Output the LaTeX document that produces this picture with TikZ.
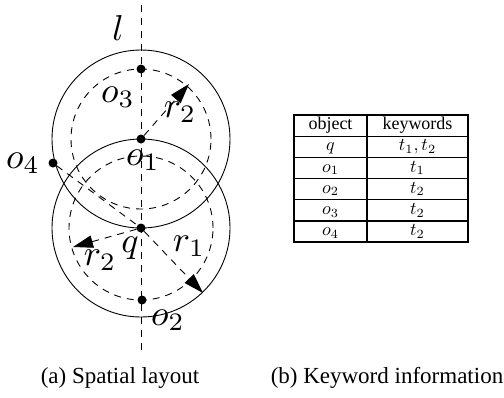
\documentclass[tikz,border=0pt]{standalone}
\usepackage{fontspec}
\setmainfont{Liberation Serif}
\usetikzlibrary{arrows.meta}
\begin{document}
\begin{tikzpicture}[x=1pt,y=-1pt,
  lab/.style={font=\normalsize, scale=3.6, inner sep=0pt},
  dot/.style={circle,fill=black,inner sep=0pt,minimum size=9pt},
  dsh/.style={dash pattern=on 7pt off 6pt, line width=0.9pt},
  sol/.style={line width=0.9pt},
  arr/.style={dsh,-{Triangle[length=20pt,width=12.5pt]}},
  tab/.style={line width=1.4pt},
  tt/.style={font=\normalsize, scale=1.8, inner sep=0pt, text height=6.8pt, text depth=2.2pt},
  captxt/.style={font=\fontsize{23}{26}\selectfont, inner sep=0pt}]
\useasboundingbox (0,0) rectangle (504,397);
% points
\coordinate (ltop) at (141,5);
\coordinate (lbot) at (141,350);
\node[dot] (o1) at (141,139) {};
\node[dot] (q) at (141,228) {};
\node[dot] (o3) at (141,69) {};
\node[dot] (o2) at (142,300) {};
\node[dot] (o4) at (53,163) {};
\coordinate (t1) at (189,84);
\coordinate (t2) at (73,247);
\coordinate (t3) at (203,293);
% vertical line
\draw[dsh] (ltop) -- (lbot);
% circles
\draw[sol] (o1.center) circle[radius=89pt];
\draw[sol] (q.center) circle[radius=89pt];
\draw[dsh] (o1.center) circle[radius=70pt];
\draw[dsh] (q.center) circle[radius=72pt];
% connectors
\draw[dsh] (o4) -- (q);
\draw[arr] (o1) -- (t1);
\draw[arr] (q) -- (t2);
\draw[arr] (q) -- (t3);
% labels
\node[lab] (ll) at (118,28) {$l$};
\node[lab] (lo3) at (118,97) {$o_3$};
\node[lab] (lr2a) at (180,112) {$r_2$};
\node[lab] (lo1) at (143,160) {$o_1$};
\node[lab] (lo4) at (23,163) {$o_4$};
\node[lab] (lq) at (130,248) {$q$};
\node[lab] (lr2b) at (100,260) {$r_2$};
\node[lab] (lr1) at (189,246) {$r_1$};
\node[lab] (lo2) at (168,320) {$o_2$};
% table
\draw[tab] (294,115) rectangle (468,242);
\draw[tab] (367,115) -- (367,242);
\foreach \y in {136.2,157.3,178.5,199.7,220.8} \draw[tab] (294,\y) -- (468,\y);
\node[tt] (h1) at (330.5,125.6) {object};
\node[tt] (h2) at (417.5,125.6) {keywords};
\node[tt] (a1) at (330.5,146.75) {$q$};
\node[tt] (b1) at (417.5,146.75) {$t_1, t_2$};
\node[tt] (a2) at (330.5,167.9) {$o_1$};
\node[tt] (b2) at (417.5,167.9) {$t_1$};
\node[tt] (a3) at (330.5,189.1) {$o_2$};
\node[tt] (b3) at (417.5,189.1) {$t_2$};
\node[tt] (a4) at (330.5,210.25) {$o_3$};
\node[tt] (b4) at (417.5,210.25) {$t_2$};
\node[tt] (a5) at (330.5,231.4) {$o_4$};
\node[tt] (b5) at (417.5,231.4) {$t_2$};
% captions
\node[captxt] (capa) at (120,378) {(a) Spatial layout};
\node[captxt] (capb) at (387,378) {(b) Keyword information};
\end{tikzpicture}
\end{document}
